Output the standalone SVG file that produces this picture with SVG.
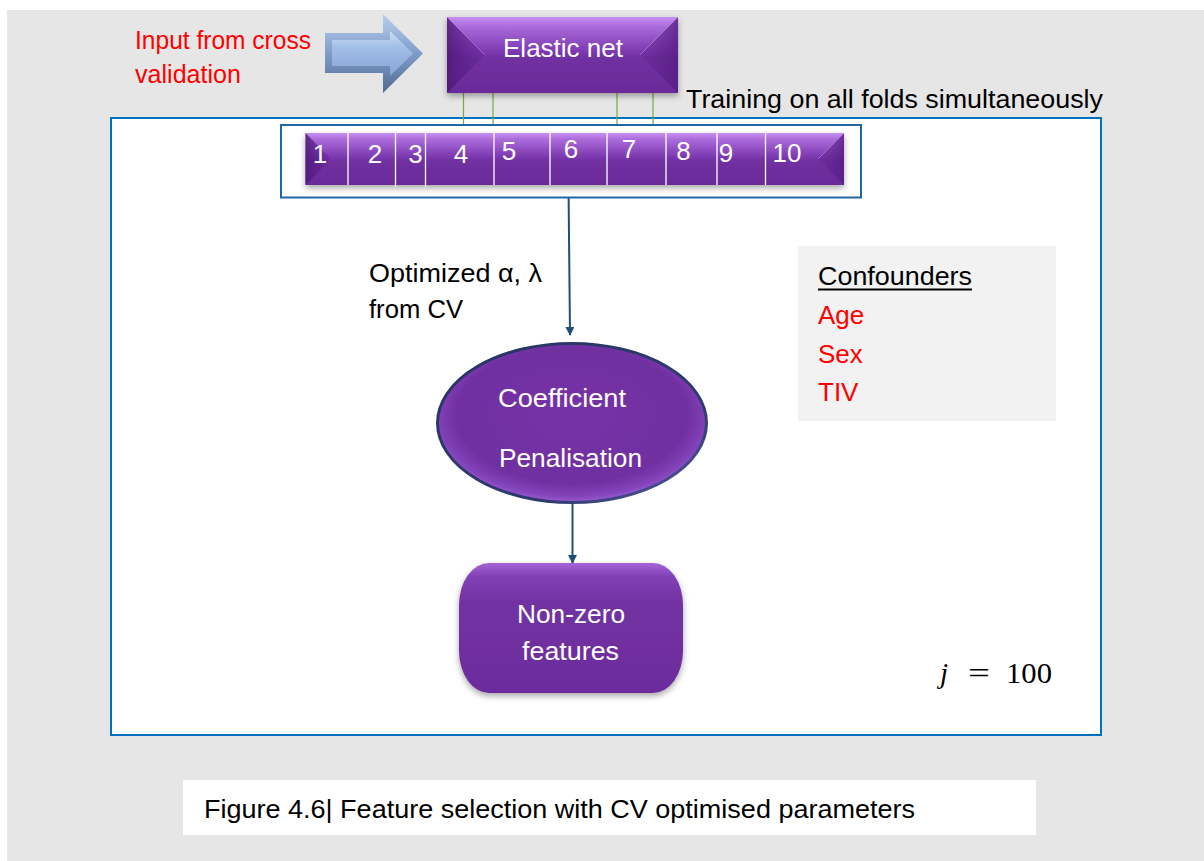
<svg xmlns="http://www.w3.org/2000/svg" width="1204" height="861" viewBox="0 0 1204 861">
  <style>
    .t { font-family: "Liberation Sans", Arial, sans-serif; font-size: 26px; }
    .w { fill: #ffffff; }
    .k { fill: #000000; }
    .r { fill: #ff0000; }
    .num { font-family: "Liberation Sans", Arial, sans-serif; font-size: 26px; fill: #ffffff; text-anchor: middle; }
    .div { stroke: #ffffff; stroke-width: 1.3; }
    .lnk { stroke: #70ad47; stroke-width: 1.2; }
    .con { stroke: #1f4e79; stroke-width: 2; fill: none; }
    .math { font-family: "Liberation Serif", "Times New Roman", serif; font-size: 29px; fill: #000000; }
  </style>
  <defs>
    <linearGradient id="bev" x1="0" y1="0" x2="0" y2="1">
      <stop offset="0" stop-color="#c690f2"/>
      <stop offset="0.12" stop-color="#ab6cdb"/>
      <stop offset="0.46" stop-color="#7c38b0"/>
      <stop offset="0.54" stop-color="#7030a0"/>
      <stop offset="1" stop-color="#6a2b99"/>
    </linearGradient>
    <linearGradient id="sideL" x1="0" y1="0" x2="1" y2="0">
      <stop offset="0" stop-color="#4e1878" stop-opacity="0.85"/>
      <stop offset="1" stop-color="#5e2290" stop-opacity="0.35"/>
    </linearGradient>
    <linearGradient id="sideR" x1="1" y1="0" x2="0" y2="0">
      <stop offset="0" stop-color="#561c82" stop-opacity="0.8"/>
      <stop offset="1" stop-color="#62258f" stop-opacity="0.3"/>
    </linearGradient>
    <linearGradient id="arrOut" x1="0" y1="0" x2="0" y2="1">
      <stop offset="0" stop-color="#b9d0ee"/>
      <stop offset="0.5" stop-color="#7f9cc8"/>
      <stop offset="1" stop-color="#4f6a93"/>
    </linearGradient>
    <linearGradient id="arrIn" x1="0" y1="0" x2="0" y2="1">
      <stop offset="0" stop-color="#cfe0f6"/>
      <stop offset="0.35" stop-color="#a3bfe8"/>
      <stop offset="1" stop-color="#86a4d6"/>
    </linearGradient>
    <radialGradient id="ell" cx="0.5" cy="0.45" r="0.55">
      <stop offset="0" stop-color="#7632a8"/>
      <stop offset="0.78" stop-color="#7030a0"/>
      <stop offset="0.93" stop-color="#8444bb"/>
      <stop offset="1" stop-color="#9a5ad0"/>
    </radialGradient>
    <linearGradient id="ellRim" x1="0" y1="0" x2="1" y2="1">
      <stop offset="0" stop-color="#2a3466"/>
      <stop offset="0.7" stop-color="#2e3a6e"/>
      <stop offset="1" stop-color="#5a5aa0"/>
    </linearGradient>
    <linearGradient id="term" x1="0" y1="0" x2="0" y2="1">
      <stop offset="0" stop-color="#a466d6"/>
      <stop offset="0.1" stop-color="#8240b6"/>
      <stop offset="0.3" stop-color="#7232a2"/>
      <stop offset="1" stop-color="#6c2c9c"/>
    </linearGradient>
    <filter id="sh" x="-10%" y="-20%" width="120%" height="150%">
      <feDropShadow dx="0" dy="3" stdDeviation="3" flood-color="#000000" flood-opacity="0.35"/>
    </filter>
    <marker id="ah" viewBox="0 0 10 10" refX="9" refY="5" markerWidth="4.5" markerHeight="4.5" orient="auto">
      <path d="M0,0 L10,5 L0,10 z" fill="#1f4e79"/>
    </marker>
  </defs>

  <!-- page -->
  <rect x="0" y="0" width="1204" height="861" fill="#ffffff"/>
  <rect x="7" y="10" width="1197" height="851" fill="#e6e6e6"/>

  <!-- outer frame -->
  <rect x="111" y="118" width="990" height="617" fill="#ffffff" stroke="#0070c0" stroke-width="2"/>

  <!-- caption -->
  <g id="caption">
    <rect x="183" y="780" width="853" height="55" fill="#ffffff"/>
    <text class="t k" x="204" y="818" textLength="711" lengthAdjust="spacingAndGlyphs">Figure 4.6| Feature selection with CV optimised parameters</text>
  </g>

  <!-- input label and arrow -->
  <g id="input">
    <text class="t r" x="135" y="49" textLength="176" lengthAdjust="spacingAndGlyphs">Input from cross</text>
    <text class="t r" x="135" y="83" textLength="106" lengthAdjust="spacingAndGlyphs">validation</text>
    <polygon points="325,33 383,33 383,14 423,53.5 383,93 383,73 325,73" fill="url(#arrOut)"/>
    <polygon points="332,40 390,40 390,31 413,53.5 390,76 390,66 332,66" fill="url(#arrIn)"/>
  </g>

  <!-- connectors -->
  <g id="connectors">
    <line class="lnk" x1="463.5" y1="93" x2="463.5" y2="133"/>
    <line class="lnk" x1="493" y1="93" x2="493" y2="133"/>
    <line class="lnk" x1="617" y1="93" x2="617" y2="133"/>
    <line class="lnk" x1="653" y1="93" x2="653" y2="133"/>
    <line class="con" x1="568.5" y1="185" x2="570" y2="335" marker-end="url(#ah)"/>
    <line class="con" x1="572.5" y1="503" x2="572.5" y2="563" marker-end="url(#ah)"/>
  </g>

  <!-- elastic net -->
  <g id="elastic-net">
    <rect x="447" y="17" width="231" height="76" fill="url(#bev)" filter="url(#sh)"/>
    <polygon points="447,17 447,93 485,55" fill="url(#sideL)"/>
    <polygon points="678,17 678,93 640,55" fill="url(#sideR)"/>
    <path d="M447,17 L485,55 M678,17 L640,55" stroke="#c9a0ee" stroke-width="0.8" stroke-opacity="0.6" fill="none"/>
    <text class="t w" x="563" y="57" text-anchor="middle" textLength="120" lengthAdjust="spacingAndGlyphs">Elastic net</text>
  </g>

  <text class="t k" x="686" y="108" textLength="417" lengthAdjust="spacingAndGlyphs">Training on all folds simultaneously</text>

  <!-- folds -->
  <g id="folds">
    <rect x="281" y="125" width="580" height="72.5" fill="#ffffff" stroke="#1e68a6" stroke-width="2"/>
    <rect x="305.5" y="133" width="538.5" height="52" fill="url(#bev)" filter="url(#sh)"/>
    <polygon points="305.5,133 305.5,185 331,159" fill="url(#sideL)"/>
    <polygon points="844,133 844,185 818,159" fill="url(#sideR)"/>
    <path d="M844,133 L818,159" stroke="#c9a0ee" stroke-width="0.8" stroke-opacity="0.6" fill="none"/>
    <line class="div" x1="348" y1="133" x2="348" y2="185"/>
    <line class="div" x1="395.5" y1="133" x2="395.5" y2="187"/>
    <line class="div" x1="425.5" y1="133" x2="425.5" y2="187"/>
    <line class="div" x1="494" y1="133" x2="494" y2="185"/>
    <line class="div" x1="550" y1="133" x2="550" y2="185"/>
    <line class="div" x1="607" y1="133" x2="607" y2="185"/>
    <line class="div" x1="666" y1="133" x2="666" y2="185"/>
    <line class="div" x1="717" y1="133" x2="717" y2="185"/>
    <line class="div" x1="765.5" y1="133" x2="765.5" y2="185"/>
    <text class="num" x="320" y="163">1</text>
    <text class="num" x="375" y="163">2</text>
    <text class="num" x="415.5" y="163">3</text>
    <text class="num" x="461" y="163">4</text>
    <text class="num" x="509" y="160">5</text>
    <text class="num" x="571" y="158">6</text>
    <text class="num" x="629" y="158">7</text>
    <text class="num" x="683.5" y="160">8</text>
    <text class="num" x="726" y="162">9</text>
    <text class="num" x="787" y="162">10</text>
  </g>

  <text class="t k" x="369" y="282" textLength="173" lengthAdjust="spacingAndGlyphs">Optimized α, λ</text>
  <text class="t k" x="369" y="318" textLength="94" lengthAdjust="spacingAndGlyphs">from CV</text>

  <!-- coefficient penalisation -->
  <g id="penalisation">
    <ellipse cx="572" cy="423" rx="134.5" ry="79.5" fill="url(#ell)" stroke="url(#ellRim)" stroke-width="3"/>
    <text class="t w" x="562" y="407" text-anchor="middle" textLength="128" lengthAdjust="spacingAndGlyphs">Coefficient</text>
    <text class="t w" x="570.5" y="467" text-anchor="middle" textLength="143" lengthAdjust="spacingAndGlyphs">Penalisation</text>
  </g>

  <!-- non-zero features -->
  <g id="nonzero">
    <rect x="459" y="563" width="224" height="130" rx="30" ry="42" fill="url(#term)" filter="url(#sh)"/>
    <text class="t w" x="571" y="623" text-anchor="middle" textLength="108" lengthAdjust="spacingAndGlyphs">Non-zero</text>
    <text class="t w" x="570.5" y="660" text-anchor="middle" textLength="97" lengthAdjust="spacingAndGlyphs">features</text>
  </g>

  <!-- confounders -->
  <g id="confounders">
    <rect x="798" y="246" width="258" height="175" fill="#f2f2f2"/>
    <text class="t k" x="818" y="285" textLength="154" lengthAdjust="spacingAndGlyphs">Confounders</text>
    <line x1="818" y1="289.5" x2="972" y2="289.5" stroke="#000000" stroke-width="2"/>
    <text class="t r" x="818" y="324">Age</text>
    <text class="t r" x="818" y="363">Sex</text>
    <text class="t r" x="818" y="401">TIV</text>
  </g>

  <!-- iteration count -->
  <g id="iterations">
    <text class="math" x="940" y="683" font-style="italic">j</text>
    <text class="math" x="968" y="683" textLength="22" lengthAdjust="spacingAndGlyphs">=</text>
    <text class="math" x="1006" y="683" textLength="46" lengthAdjust="spacingAndGlyphs">100</text>
  </g>
</svg>
